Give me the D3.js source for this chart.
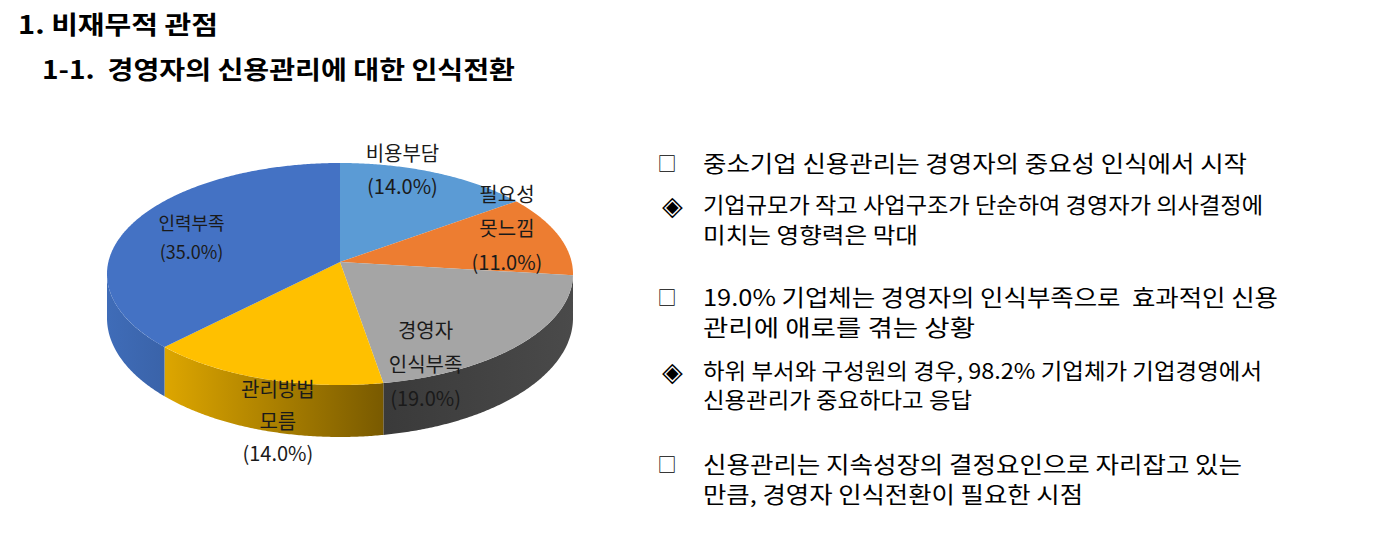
<!DOCTYPE html>
<html><head><meta charset="utf-8">
<script src="https://cdn.jsdelivr.net/npm/d3@7"></script>
<style>
body{margin:0;background:#fff;}
svg{display:block;}
text{font-family:"Noto Sans CJK KR","Noto Sans",sans-serif;white-space:pre;}
</style>
</head><body>
<svg id="c" width="1400" height="560"></svg>
<script>
// ---------------- data ----------------
const categories = ["비용부담", "필요성\n못느낌", "경영자\n인식부족", "관리방법\n모름", "인력부족"];
const values = [14.0, 11.0, 19.0, 14.0, 35.0];
const sliceColors = ["#5B9BD5", "#ED7D31", "#A5A5A5", "#FFC000", "#4472C4"];
const headings = ["1. 비재무적 관점", "1-1.  경영자의 신용관리에 대한 인식전환"];
const bulletMarks = ["□", "◈", "□", "◈", "□"];
const bulletLines = [
  ["중소기업 신용관리는 경영자의 중요성 인식에서 시작"],
  ["기업규모가 작고 사업구조가 단순하여 경영자가 의사결정에", "미치는 영향력은 막대"],
  ["19.0% 기업체는 경영자의 인식부족으로  효과적인 신용", "관리에 애로를 겪는 상황"],
  ["하위 부서와 구성원의 경우, 98.2% 기업체가 기업경영에서", "신용관리가 중요하다고 응답"],
  ["신용관리는 지속성장의 결정요인으로 자리잡고 있는", "만큼, 경영자 인식전환이 필요한 시점"]
];

// ---------------- layout / style ----------------
const svg = d3.select("#c");
const P = {cx: 340, cy: 274, rx: 233, ry: 111, apexY: 262};
const DEG = Math.PI / 180;
// perspective: the far half of the tilted disc is compressed, the near half stretched
const project = t => t - 6.2 * DEG * Math.sin(t);
const rim = psi => [P.cx + P.rx * Math.sin(psi), P.cy - P.ry * Math.cos(psi)];
const depth = psi => 44 - 8 * Math.min(0, Math.cos(psi));
const sideStops = [["#4a86c0","#3f74a8"],["#c9661f","#a9541a"],["#3a3a3a","#4a4a4a"],["#DDA600","#795A00"],["#3F6CB8","#3A63A9"]];
const labelShift = [[5,-40],[36,-19],[-23,52],[-16,88],[-25,-1]];
const labelSize = [20,20,20,20,18];
const labelLead = [33,34,34,32,29];

const pie = d3.pie().sort(null).value(d => d).startAngle(0).endAngle(2 * Math.PI);
const arcs = pie(values);

const defs = svg.append("defs");
const gPie = svg.append("g");

function sample(a0, a1) {
  const n = Math.max(2, Math.ceil((a1 - a0) / (0.5 * DEG)));
  return d3.range(n + 1).map(i => a0 + (a1 - a0) * i / n);
}

// sides (visible front half)
arcs.forEach((a, i) => {
  let p0 = project(a.startAngle), p1 = project(a.endAngle);
  const lo = Math.PI / 2, hi = 3 * Math.PI / 2;
  p0 = Math.max(p0, lo); p1 = Math.min(p1, hi);
  if (p1 <= p0) return;
  const ps = sample(p0, p1);
  const top = ps.map(rim);
  const bot = ps.map(p => { const r = rim(p); return [r[0], r[1] + depth(p)]; }).reverse();
  const xs = top.map(d => d[0]);
  const id = "side" + i;
  const gr = defs.append("linearGradient").attr("id", id).attr("gradientUnits", "userSpaceOnUse")
    .attr("x1", d3.min(xs)).attr("x2", d3.max(xs)).attr("y1", 0).attr("y2", 0);
  gr.append("stop").attr("offset", 0).attr("stop-color", sideStops[i][0]);
  gr.append("stop").attr("offset", 1).attr("stop-color", sideStops[i][1]);
  gPie.append("path").attr("d", d3.line()(top.concat(bot)) + "Z").attr("fill", `url(#${id})`);
});

// top faces
arcs.forEach((a, i) => {
  const pts = [[P.cx, P.apexY]].concat(sample(a.startAngle, a.endAngle).map(t => rim(project(t))));
  gPie.append("path").attr("d", d3.line()(pts) + "Z").attr("fill", sliceColors[i]);
});

// data labels
const fmt = d3.format(".1f");
arcs.forEach((a, i) => {
  const mid = project((a.startAngle + a.endAngle) / 2);
  const r = rim(mid);
  const bx = P.cx + 0.6 * (r[0] - P.cx) + labelShift[i][0];
  const by = P.apexY + 0.6 * (r[1] - P.apexY) + labelShift[i][1];
  const lines = categories[i].split("\n").concat([`(${fmt(values[i])}%)`]);
  const lead = labelLead[i];
  const y0 = by - (lines.length - 1) * lead / 2;
  const t = gPie.append("text").attr("text-anchor", "middle").attr("font-size", labelSize[i])
    .attr("fill", "#1a1a1a").attr("dominant-baseline", "central");
  lines.forEach((ln, k) => t.append("tspan").attr("x", bx).attr("y", y0 + k * lead).text(ln));
});

// headings
const headPos = [[18, 23, 200], [42, 68, 473]];
headings.forEach((h, i) => {
  svg.append("text").attr("x", headPos[i][0]).attr("y", headPos[i][1]).attr("font-size", 25)
    .attr("font-weight", 700).attr("fill", "#000").attr("dominant-baseline", "central")
    .attr("textLength", headPos[i][2]).attr("lengthAdjust", "spacingAndGlyphs").text(h);
});

// bullet text
const bulletY = [[162], [203, 233], [296, 326], [369, 398], [463, 493]];
const bulletW = [[544], [560, 215], [575, 272], [559, 269], [539, 380]];
bulletLines.forEach((lines, i) => {
  const isSq = bulletMarks[i] === "□";
  const fs = isSq ? 22.5 : 21.5;
  svg.append("text").attr("x", isSq ? 667 : 672).attr("y", bulletY[i][0]).attr("text-anchor", "middle")
    .attr("dominant-baseline", "central").attr("font-size", isSq ? 19 : 27).attr("fill", "#000")
    .text(bulletMarks[i]);
  lines.forEach((ln, k) => {
    svg.append("text").attr("x", 703).attr("y", bulletY[i][k]).attr("font-size", fs)
      .attr("fill", "#000").attr("dominant-baseline", "central")
      .attr("textLength", bulletW[i][k]).attr("lengthAdjust", "spacingAndGlyphs").text(ln);
  });
});
</script>
</body></html>
